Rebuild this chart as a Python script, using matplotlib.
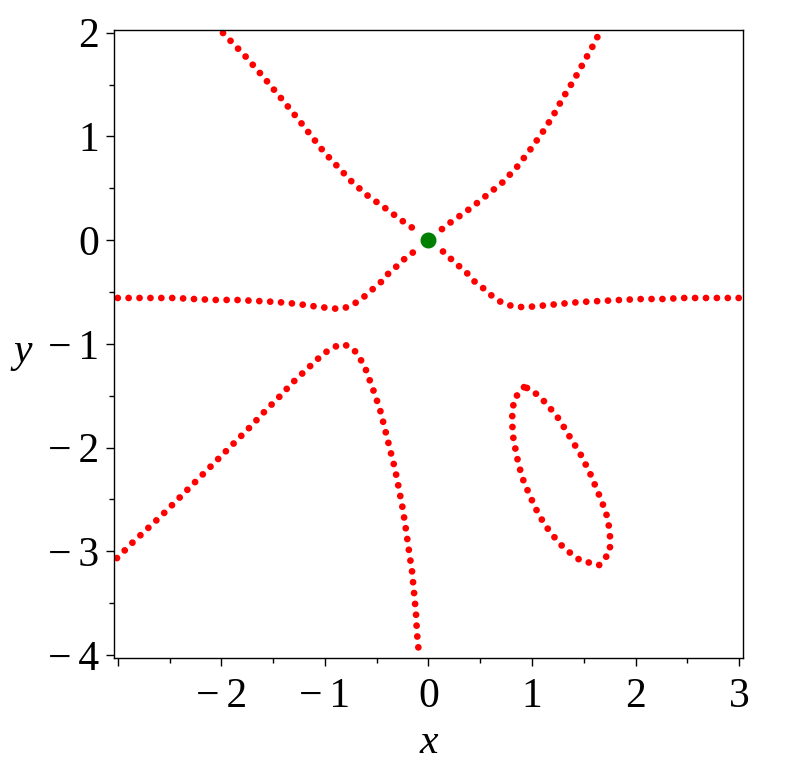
import matplotlib
matplotlib.use("Agg")
import matplotlib.pyplot as plt

# Upper-left branch (toward the origin)
ul_x = [-1.984, -1.771, -1.578, -1.385, -1.260, -1.009, -0.874, -0.738, -0.584, -0.420, -0.265, -0.169, -0.130]
ul_y = [1.997, 1.776, 1.554, 1.322, 1.168, 0.849, 0.705, 0.560, 0.426, 0.310, 0.194, 0.126, 0.106]

# Upper-right branch
ur_x = [0.130, 0.150, 0.246, 0.410, 0.565, 0.719, 0.854, 0.980, 1.096, 1.202, 1.298, 1.404, 1.501, 1.597, 1.655]
ur_y = [0.106, 0.126, 0.194, 0.310, 0.435, 0.560, 0.705, 0.869, 1.032, 1.197, 1.371, 1.544, 1.718, 1.891, 2.007]

# Lower-left branch (left edge to origin)
ll_x = [-3.0, -2.862, -2.659, -2.457, -2.264, -2.061, -1.858, -1.656, -1.462, -1.260, -1.057,
        -0.864, -0.777, -0.690, -0.613, -0.536, -0.458, -0.391, -0.314, -0.246, -0.188, -0.140]
ll_y = [-0.558, -0.558, -0.558, -0.558, -0.568, -0.577, -0.577, -0.587, -0.597, -0.616, -0.645,
        -0.664, -0.645, -0.597, -0.539, -0.471, -0.404, -0.327, -0.259, -0.192, -0.153, -0.110]

# Lower-right branch (origin to right edge)
lr_x = [0.140, 0.179, 0.227, 0.304, 0.381, 0.449, 0.526, 0.603, 0.680, 0.767, 0.864, 0.960, 1.066,
        1.260, 1.462, 1.665, 1.858, 2.061, 2.264, 2.457, 2.660, 2.862, 3.0]
lr_y = [-0.110, -0.144, -0.192, -0.259, -0.327, -0.404, -0.462, -0.530, -0.587, -0.626, -0.645, -0.645, -0.635,
        -0.616, -0.597, -0.587, -0.577, -0.568, -0.568, -0.558, -0.558, -0.558, -0.558]

# Arch curve (left edge, peak near x=-0.85, down to the bottom)
arch_x = [-3.007, -2.862, -2.717, -2.572, -2.427, -2.292, -2.147, -2.003, -1.868, -1.723, -1.588,
          -1.443, -1.308, -1.163, -1.018, -0.931, -0.845, -0.767, -0.700, -0.652, -0.603, -0.536,
          -0.469, -0.420, -0.372, -0.323, -0.285, -0.246, -0.217, -0.188, -0.159, -0.140, -0.121,
          -0.111, -0.092, -0.088]
arch_y = [-3.066, -2.921, -2.786, -2.651, -2.507, -2.372, -2.227, -2.083, -1.948, -1.803, -1.659,
          -1.514, -1.370, -1.234, -1.099, -1.041, -1.003, -1.022, -1.080, -1.157, -1.254, -1.437,
          -1.630, -1.823, -2.016, -2.208, -2.401, -2.604, -2.797, -2.999, -3.192, -3.394, -3.597,
          -3.790, -3.992, -4.03]

# Closed loop
loop_x = [0.922, 0.825, 0.806, 0.816, 0.854, 0.903, 0.980, 1.066, 1.173, 1.308, 1.462, 1.646,
          1.752, 1.752, 1.713, 1.636, 1.559, 1.472, 1.366, 1.260, 1.134, 0.989, 0.922]
loop_y = [-1.418, -1.533, -1.726, -1.890, -2.093, -2.286, -2.469, -2.652, -2.816, -2.970, -3.086, -3.135,
          -3.009, -2.807, -2.623, -2.430, -2.247, -2.073, -1.900, -1.726, -1.571, -1.436, -1.418]

# Singular point
pt_x = [0.0]
pt_y = [0.0]

x_ticks = [-3, -2, -1, 0, 1, 2, 3]
x_ticklabels = ["", "\u2212\u20062", "\u2212\u20061", "0", "1", "2", "3"]
y_ticks = [-4, -3, -2, -1, 0, 1, 2]
y_ticklabels = ["\u2212\u20064", "\u2212\u20063", "\u2212\u20062", "\u2212\u20061", "0", "1", "2"]

plt.rcParams['font.family'] = ['Liberation Serif', 'DejaVu Serif']

fig = plt.figure(figsize=(7.9, 7.72), dpi=100)
ax = fig.add_axes([0.1447, 0.1477, 0.7954, 0.8135])

dot_style = dict(color='#ff0000', linewidth=4.9, linestyle=(0, (0.001, 1.6)),
                 dash_capstyle='round', solid_capstyle='round')
for xs, ys in [(ul_x, ul_y), (ur_x, ur_y), (ll_x, ll_y), (lr_x, lr_y), (arch_x, arch_y), (loop_x, loop_y)]:
    ax.plot(xs, ys, **dot_style)

ax.plot(pt_x, pt_y, 'o', color='#008000', markersize=10.5, zorder=5)

ax.set_xlim(-3.033, 3.033)
ax.set_ylim(-4.029, 2.026)
ax.set_xticks(x_ticks)
ax.set_xticklabels(x_ticklabels)
ax.set_yticks(y_ticks)
ax.set_yticklabels(y_ticklabels)
ax.set_xticks([-2.5, -1.5, -0.5, 0.5, 1.5, 2.5], minor=True)
ax.set_yticks([-3.5, -2.5, -1.5, -0.5, 0.5, 1.5], minor=True)
ax.tick_params(axis='both', which='major', length=6, width=1, labelsize=30, direction='out')
ax.tick_params(axis='both', which='minor', length=3.5, width=1, direction='out')
ax.tick_params(axis='y', which='major', pad=5)
ax.tick_params(axis='x', which='major', pad=8)
for s in ax.spines.values():
    s.set_linewidth(1.0)

ax.set_xlabel('x', fontsize=30, style='italic', va='center', ha='center')
ax.set_ylabel('y', fontsize=30, style='italic', rotation=0, ha='center', va='center')
ax.xaxis.set_label_coords(0.5, -0.135)
ax.yaxis.set_label_coords(-0.145, 0.487)

fig.savefig('out.png', dpi=100)
